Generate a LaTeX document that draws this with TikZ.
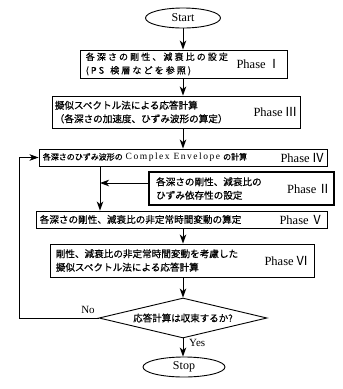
\documentclass[tikz,border=0pt]{standalone}
\usepackage{fontspec}
\setmainfont{Liberation Serif}
\newfontfamily\cjk[FakeBold=0.6]{Noto Sans CJK JP}
\newfontfamily\latinwide[LetterSpace=16]{Liberation Serif}
\newfontfamily\numf{Noto Sans CJK JP}
\usetikzlibrary{arrows.meta,shapes.geometric}

% spacing between Japanese characters
\newdimen\jpgap
\jpgap=2.1pt
\def\spreadstep#1{\ifx#1\spreadend\else#1\hskip\jpgap\relax\expandafter\spreadstep\fi}
\def\spreadtext#1{\spreadstep#1\spreadend}

\begin{document}
\begin{tikzpicture}[x=1pt, y=-1pt]
\tikzset{
    stepbox/.style={rectangle, draw=black, line width=0.9pt, inner sep=0pt},
    term/.style={ellipse, draw=black, line width=0.9pt, inner sep=0pt, font=\fontsize{12}{14}\selectfont},
    test/.style={diamond, draw=black, line width=0.9pt, inner sep=0pt, aspect=4.2, minimum width=168pt, minimum height=40pt},
    jtext/.style={align=left, inner sep=0pt, font=\cjk\fontsize{9.6}{13.5}\selectfont},
    phase/.style={inner sep=0pt, font=\fontsize{12.5}{14}\selectfont},
    mylabel/.style={inner sep=0pt, font=\fontsize{11}{13}\selectfont},
    myarrow/.style={-{Stealth[length=9pt, width=6.5pt, inset=2.5pt]}, line width=0.9pt}
}
\useasboundingbox (0,0) rectangle (343,389);

\node[term, minimum width=75pt, minimum height=20pt] (start) at (183,18) {Start};

\node[stepbox, minimum width=207pt, minimum height=28pt] (set) at (183.5,64) {};
\node[jtext, anchor=west, font=\cjk\fontsize{9}{13.5}\selectfont] (settxt) at ([xshift=6pt]set.west) {\spreadtext{各深さの剛性、減衰比の設定}\\\spreadtext{(PS\ 検層などを参照)}};
\node[phase, anchor=east] (setph) at ([xshift=-7pt]set.east) {Phase\,{\numf Ⅰ}};

\node[stepbox, minimum width=248pt, minimum height=32pt] (calc) at (176,112) {};
\node[jtext, anchor=west] (calctxt) at ([xshift=3pt]calc.west) {擬似スペクトル法による応答計算\\（各深さの加速度、ひずみ波形の算定）};
\node[phase, anchor=east] (calcph) at ([xshift=-3pt]calc.east) {Phase\,{\numf Ⅲ}};

\node[stepbox, minimum width=288pt, minimum height=17pt] (env) at (183,157.5) {};
\node[jtext, anchor=west, font=\cjk\fontsize{8}{13}\selectfont] (envtxt) at ([xshift=4pt]env.west) {各深さのひずみ波形の\hspace{3pt}{\latinwide\fontsize{9.5}{13}\selectfont Complex Envelope}\hspace{3pt}の計算};
\node[phase, anchor=east] (envph) at ([xshift=-3pt]env.east) {Phase\,{\numf Ⅳ}};

\node[stepbox, line width=2.2pt, minimum width=185pt, minimum height=33pt] (dep) at (241.5,188.5) {};
\node[jtext, anchor=west] (deptxt) at ([xshift=8pt]dep.west) {各深さの剛性、減衰比の\\ひずみ依存性の設定};
\node[phase, anchor=east] (depph) at ([xshift=-4pt]dep.east) {Phase\,{\numf Ⅱ}};

\node[stepbox, minimum width=291pt, minimum height=17pt] (vary) at (181.5,219.5) {};
\node[jtext, anchor=west] (varytxt) at ([xshift=4pt]vary.west) {各深さの剛性、減衰比の非定常時間変動の算定};
\node[phase, anchor=east] (varyph) at ([xshift=-4pt]vary.east) {Phase\,{\numf Ⅴ}};

\node[stepbox, minimum width=264pt, minimum height=33pt] (resp) at (182,260.5) {};
\node[jtext, anchor=west] (resptxt) at ([xshift=6pt]resp.west) {剛性、減衰比の非定常時間変動を考慮した\\擬似スペクトル法による応答計算};
\node[phase, anchor=east] (respph) at ([xshift=-6pt]resp.east) {Phase\,{\numf Ⅵ}};

\node[test, font=\cjk\fontsize{9.5}{11}\selectfont] (conv) at (183,318) {応答計算は収束するか?};
\node[term, minimum width=82pt, minimum height=20pt] (stop) at (184,367) {Stop};

\coordinate (join) at (100,183);
\coordinate (loop) at (19,318);
\node[mylabel, anchor=south] (no) at (88,314) {No};
\node[mylabel, anchor=west] (yes) at (189,343) {Yes};

\draw[myarrow] (start.south) -- (set.north -| start.south);
\draw[myarrow] (set.south -| start.south) -- (calc.north -| start.south);
\draw[myarrow] (calc.south -| env.north) -- (env.north);
\draw[myarrow] (env.south -| join) -- (vary.north -| join);
\draw[myarrow] (dep.west |- join) -- (join);
\draw[myarrow] (vary.south -| conv.north) -- (resp.north -| conv.north);
\draw[myarrow] (resp.south -| conv.north) -- (conv.north);
\draw[myarrow] (conv.south) -- (conv.south |- stop.north);
\draw[myarrow] (conv.west) -- (loop) |- (env.west);

\end{tikzpicture}
\end{document}
